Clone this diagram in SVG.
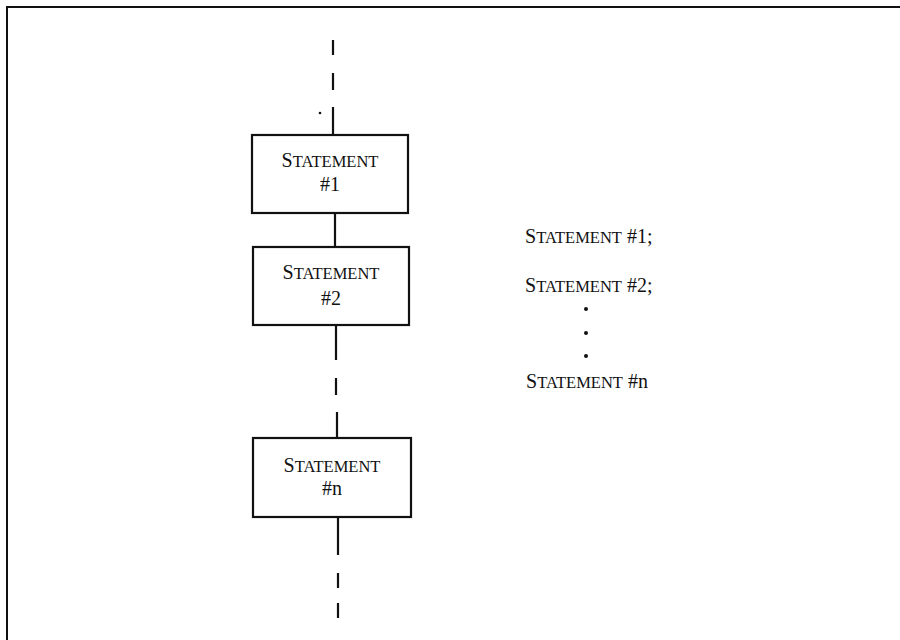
<svg xmlns="http://www.w3.org/2000/svg" width="900" height="640" viewBox="0 0 900 640">
<style>
.box{fill:#fff;stroke:#111;stroke-width:2.2}
.ln{stroke:#111;stroke-width:2.2;fill:none}
.t{font-family:"Liberation Serif","Times New Roman",serif;font-size:20px;fill:#111}
.sc{font-size:16.5px}
.c{text-anchor:middle}
</style>
<rect width="900" height="640" fill="#fff"/>
<path d="M7,640 V7 H900" fill="none" stroke="#111" stroke-width="2"/>
<g id="connectors">
<line class="ln" x1="333" y1="40" x2="333" y2="55"/>
<line class="ln" x1="333" y1="73" x2="333" y2="90"/>
<line class="ln" x1="333" y1="107" x2="333" y2="135"/>
<line class="ln" x1="335" y1="213" x2="335" y2="247"/>
<line class="ln" x1="336" y1="325" x2="336" y2="360"/>
<line class="ln" x1="336" y1="378" x2="336" y2="395"/>
<line class="ln" x1="337" y1="412" x2="337" y2="438"/>
<line class="ln" x1="338" y1="517" x2="338" y2="555"/>
<line class="ln" x1="338" y1="573" x2="338" y2="588"/>
<line class="ln" x1="338" y1="603" x2="338" y2="618"/>
</g>
<circle cx="320" cy="113" r="1.3" fill="#111"/>
<g id="stmt1">
<rect class="box" x="252" y="135" width="156" height="78"/>
<text class="t c" x="330" y="167">S<tspan class="sc">TATEMENT</tspan></text>
<text class="t c" x="330" y="191">#1</text>
</g>
<g id="stmt2">
<rect class="box" x="253" y="247" width="156" height="78"/>
<text class="t c" x="331" y="279">S<tspan class="sc">TATEMENT</tspan></text>
<text class="t c" x="331" y="305">#2</text>
</g>
<g id="stmtn">
<rect class="box" x="253" y="438" width="158" height="79"/>
<text class="t c" x="332" y="472">S<tspan class="sc">TATEMENT</tspan></text>
<text class="t c" x="332" y="495">#n</text>
</g>
<g id="code">
<text class="t" x="525" y="243">S<tspan class="sc">TATEMENT</tspan> #1;</text>
<text class="t" x="525" y="292">S<tspan class="sc">TATEMENT</tspan> #2;</text>
<circle cx="586" cy="309" r="2" fill="#111"/>
<circle cx="586" cy="333" r="2" fill="#111"/>
<circle cx="586" cy="356" r="2" fill="#111"/>
<text class="t" x="526" y="388">S<tspan class="sc">TATEMENT</tspan> #n</text>
</g>
</svg>
